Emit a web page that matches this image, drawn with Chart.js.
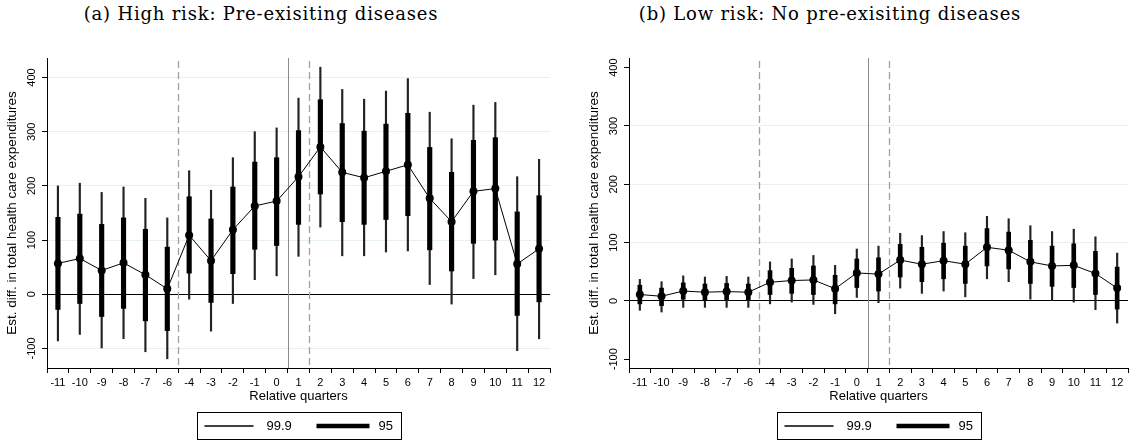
<!DOCTYPE html>
<html>
<head>
<meta charset="utf-8">
<script src="https://cdn.jsdelivr.net/npm/chart.js@4.4.1/dist/chart.umd.min.js"></script>
<style>
  body { margin: 0; background: #fff; }
  #wrap { position: relative; width: 1132px; height: 441px; overflow: hidden; }
  canvas { position: absolute; top: 0; }
  .ttl { position: absolute; top: 3px; font: 18px "DejaVu Serif", serif; letter-spacing: 0.8px; color: #000; white-space: nowrap; transform: translateX(-50%); }
</style>
</head>
<body>
<div id="wrap">
  <div class="ttl" style="left:261px">(a) High risk: Pre-exisiting diseases</div>
  <div class="ttl" style="left:830px">(b) Low risk: No pre-exisiting diseases</div>
  <canvas id="high" width="566" height="441" style="left:0"></canvas>
  <canvas id="low" width="550" height="441" style="left:582px"></canvas>
</div>
<script>
// relative quarters (-5 is the reference quarter, left out)
const quarters = ['-11', '-10', '-9', '-8', '-7', '-6', '-4', '-3', '-2', '-1', '0', '1',
  '2', '3', '4', '5', '6', '7', '8', '9', '10', '11', '12'];

// (a) high risk
const highEst   = [57, 66, 44, 58, 36, 10, 109, 62, 119, 163, 172, 217, 272, 225, 215, 227, 239, 177, 134, 190, 195, 56, 84];
const highLo95  = [-28, -17, -41, -26, -49, -67, 39, -15, 38, 83, 90, 129, 185, 134, 129, 138, 145, 82, 43, 94, 100, -39, -14];
const highHi95  = [142, 148, 129, 141, 120, 87, 180, 139, 198, 244, 252, 302, 359, 315, 301, 314, 334, 271, 225, 284, 289, 152, 182];
const highLo999 = [-86, -74, -99, -82, -106, -119, -9, -68, -17, 27, 34, 70, 124, 71, 71, 78, 80, 18, -18, 29, 36, -104, -82];
const highHi999 = [200, 205, 188, 198, 177, 141, 228, 192, 252, 300, 307, 362, 419, 378, 360, 375, 398, 336, 287, 349, 354, 217, 249];

// (b) low risk
const lowEst   = [11, 8, 17, 15, 16, 15, 32, 35, 36, 21, 48, 46, 70, 63, 69, 63, 92, 87, 67, 60, 61, 47, 22];
const lowLo95  = [-5, -8, 3, 1, 2, 2, 11, 13, 11, -5, 23, 17, 41, 33, 38, 30, 60, 55, 30, 25, 23, 11, -14];
const lowHi95  = [27, 22, 31, 29, 30, 29, 52, 56, 60, 44, 72, 74, 97, 92, 99, 94, 124, 118, 104, 94, 98, 85, 58];
const lowLo999 = [-16, -19, -11, -11, -11, -11, -5, -2, -6, -22, 6, -3, 22, 13, 17, 7, 38, 33, 3, 0, -2, -15, -38];
const lowHi999 = [37, 33, 43, 41, 42, 41, 67, 72, 78, 61, 89, 94, 116, 112, 119, 117, 145, 141, 129, 119, 123, 110, 82];

// reference lines sit between these quarter and the next one
const dashedAfter = ['-6', '1'];
const solidAfter = ['0'];

const SANS = '"Liberation Sans", Arial, sans-serif';

function pairs(lo, hi) {
  return lo.map((v, i) => [v, hi[i]]);
}

const yTickLabels = {
  id: 'yTickLabels',
  afterDraw(chart) {
    const s = chart.scales.y, ctx = chart.ctx;
    ctx.save();
    ctx.font = '11px ' + SANS;
    ctx.fillStyle = '#000';
    ctx.textAlign = 'center';
    ctx.textBaseline = 'middle';
    s.ticks.forEach(t => {
      ctx.save();
      ctx.translate(s.right - 15, s.getPixelForValue(t.value));
      ctx.rotate(-Math.PI / 2);
      ctx.fillText(t.label, 0, 0);
      ctx.restore();
    });
    ctx.restore();
  }
};

const refLines = {
  id: 'refLines',
  beforeDatasetsDraw(chart) {
    const x = chart.scales.x, a = chart.chartArea, ctx = chart.ctx;
    const mid = q => {
      const i = quarters.indexOf(q);
      return Math.round((x.getPixelForValue(i) + x.getPixelForValue(i + 1)) / 2) + 0.5;
    };
    ctx.save();
    ctx.strokeStyle = '#a0a0a0';
    ctx.lineWidth = 1.3;
    ctx.setLineDash([7, 4]);
    dashedAfter.forEach(q => {
      ctx.beginPath(); ctx.moveTo(mid(q), a.top + 3); ctx.lineTo(mid(q), a.bottom); ctx.stroke();
    });
    ctx.setLineDash([]);
    ctx.strokeStyle = '#8c8c8c';
    ctx.lineWidth = 1;
    solidAfter.forEach(q => {
      ctx.beginPath(); ctx.moveTo(mid(q), a.top); ctx.lineTo(mid(q), a.bottom); ctx.stroke();
    });
    ctx.restore();
  }
};

const boxLegend = {
  id: 'boxLegend',
  afterDraw(chart) {
    const a = chart.chartArea, ctx = chart.ctx;
    const w = 204, h = 27, top = 412;
    const left = Math.round((a.left + a.right) / 2 - w / 2) + 0.5;
    ctx.save();
    ctx.strokeStyle = '#000';
    ctx.lineWidth = 1;
    ctx.strokeRect(left, top + 0.5, w, h);
    const cy = top + 14;
    ctx.beginPath(); ctx.moveTo(left + 7, cy); ctx.lineTo(left + 56, cy); ctx.lineWidth = 1.3; ctx.stroke();
    ctx.beginPath(); ctx.moveTo(left + 119, cy); ctx.lineTo(left + 172, cy); ctx.lineWidth = 4.5; ctx.stroke();
    ctx.font = '13px ' + SANS;
    ctx.fillStyle = '#000';
    ctx.textBaseline = 'middle';
    const ds = chart.data.datasets;
    ctx.fillText(ds[1].label, left + 69, cy);
    ctx.fillText(ds[0].label, left + 181, cy);
    ctx.restore();
  }
};

function makeChart(id, est, lo95, hi95, lo999, hi999, yMin, yMax, gridVals, padRight, thick) {
  const grid = '#e6eff1';
  return new Chart(document.getElementById(id), {
    type: 'bar',
    data: {
      labels: quarters,
      datasets: [
        { label: '95', data: pairs(lo95, hi95), backgroundColor: '#000', barThickness: thick, grouped: false, order: 2 },
        { label: '99.9', data: pairs(lo999, hi999), backgroundColor: '#222', barThickness: 1.5, grouped: false, order: 3 },
        { type: 'line', label: 'est', data: est, borderColor: '#000', borderWidth: 1, tension: 0,
          pointRadius: 4, pointBackgroundColor: '#000', pointBorderWidth: 0, order: 1 }
      ]
    },
    options: {
      responsive: false,
      animation: false,
      devicePixelRatio: 1,
      layout: { padding: { top: 58, right: padRight, bottom: 37, left: 0 } },
      plugins: { legend: { display: false }, tooltip: { enabled: false } },
      scales: {
        x: {
          offset: true,
          afterFit: s => { s.height = 36; },
          grid: { drawOnChartArea: false, drawTicks: true, tickLength: 5, tickColor: '#000' },
          border: { color: '#000' },
          ticks: { autoSkip: false, maxRotation: 0, padding: 3, color: '#000', font: { family: SANS, size: 11 } },
          title: { display: true, text: 'Relative quarters', color: '#000', padding: 0, font: { family: SANS, size: 13 } }
        },
        y: {
          min: yMin,
          max: yMax,
          afterFit: s => { s.width = 47; },
          ticks: { display: false, stepSize: 100, includeBounds: false },
          grid: {
            tickLength: 5,
            tickColor: '#000',
            color: c => (c.tick && c.tick.value === 0) ? '#000' : (c.tick && gridVals.includes(c.tick.value) ? grid : 'rgba(0,0,0,0)')
          },
          border: { color: '#000' },
          title: { display: true, text: 'Est. diff. in total health care expenditures', color: '#000',
            padding: { top: 4, bottom: 0 }, font: { family: SANS, size: 13.5 } }
        }
      }
    },
    plugins: [refLines, yTickLabels, boxLegend]
  });
}

makeChart('high', highEst, highLo95, highHi95, highLo999, highHi999, -136, 436, [-100, 100, 200, 300, 400], 16, 4.5);
makeChart('low', lowEst, lowLo95, lowHi95, lowLo999, lowHi999, -115, 416.6, [100, 200, 300], 0, 4);
</script>
</body>
</html>
